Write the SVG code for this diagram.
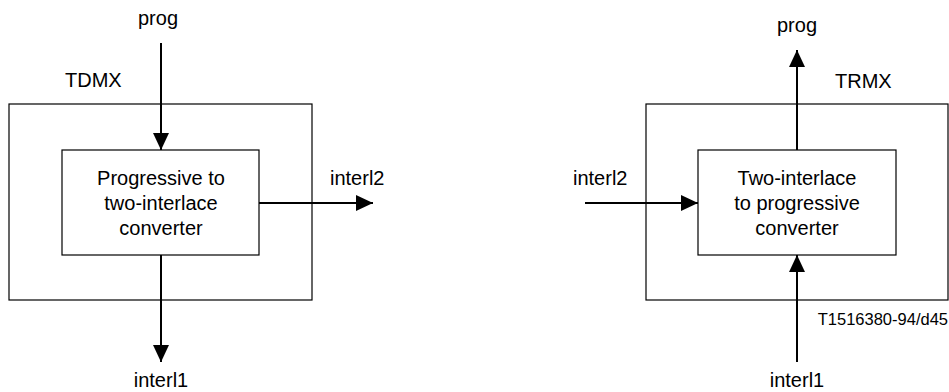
<svg xmlns="http://www.w3.org/2000/svg" width="949" height="392" viewBox="0 0 949 392">
<style>
text{font-family:"Liberation Sans",Arial,sans-serif;font-size:20px;fill:#000}
.box{fill:none;stroke:#000;stroke-width:1.2}
.ar{fill:none;stroke:#000;stroke-width:2}
.mid{text-anchor:middle}
</style>
<defs>
<marker id="ah" viewBox="0 0 17 16" refX="17" refY="8" markerWidth="17" markerHeight="16" markerUnits="userSpaceOnUse" orient="auto">
<path d="M0,0 L17,8 L0,16 Z" fill="#000"/>
</marker>
</defs>
<g id="tdmx">
<rect class="box" x="9" y="104" width="303" height="196"/>
<text x="65" y="87">TDMX</text>
</g>
<g id="conv1">
<rect class="box" x="62" y="150" width="197" height="105"/>
<text class="mid" x="161" y="185">Progressive to</text>
<text class="mid" x="161" y="210">two-interlace</text>
<text class="mid" x="161" y="235">converter</text>
</g>
<g id="trmx">
<rect class="box" x="646" y="104" width="302" height="196"/>
<text x="835" y="88">TRMX</text>
</g>
<g id="conv2">
<rect class="box" x="698" y="150" width="198" height="105"/>
<text class="mid" x="797" y="185">Two-interlace</text>
<text class="mid" x="797" y="210">to progressive</text>
<text class="mid" x="797" y="235">converter</text>
</g>
<g id="labels">
<text class="mid" x="158" y="25">prog</text>
<text x="330" y="185">interl2</text>
<text class="mid" x="161" y="387">interl1</text>
<text class="mid" x="797" y="32">prog</text>
<text x="573" y="185">interl2</text>
<text class="mid" x="797" y="387">interl1</text>
<text x="948" y="325" text-anchor="end" style="font-size:16.5px">T1516380-94/d45</text>
</g>
<g id="connectors">
<line class="ar" x1="161" y1="43" x2="161" y2="150" marker-end="url(#ah)"/>
<line class="ar" x1="259" y1="203" x2="373" y2="203" marker-end="url(#ah)"/>
<line class="ar" x1="161" y1="255" x2="161" y2="362" marker-end="url(#ah)"/>
<line class="ar" x1="797" y1="150" x2="797" y2="50" marker-end="url(#ah)"/>
<line class="ar" x1="585" y1="203" x2="698" y2="203" marker-end="url(#ah)"/>
<line class="ar" x1="797" y1="362" x2="797" y2="255" marker-end="url(#ah)"/>
</g>
</svg>
